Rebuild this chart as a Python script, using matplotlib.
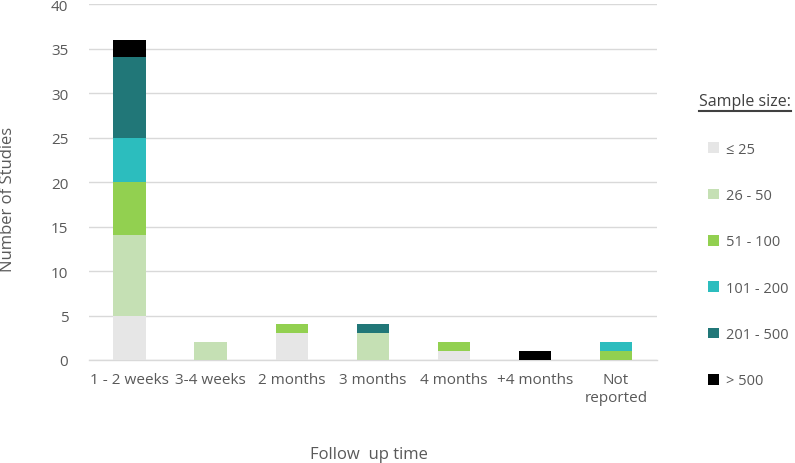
import matplotlib.pyplot as plt
from matplotlib.lines import Line2D
import numpy as np

plt.rcParams['font.family'] = ['Open Sans', 'DejaVu Sans']

categories = ["1 - 2 weeks", "3-4 weeks", "2 months", "3 months",
              "4 months", "+4 months", "Not\nreported"]
size_labels = ["\u2264 25", "26 - 50", "51 - 100", "101 - 200", "201 - 500", "> 500"]
size_colors = ["#E6E6E6", "#C5E0B4", "#92D050", "#2CBDBE", "#217778", "#000000"]

le_25 = [5, 0, 3, 0, 1, 0, 0]
s26_50 = [9, 2, 0, 3, 0, 0, 0]
s51_100 = [6, 0, 1, 0, 1, 0, 1]
s101_200 = [5, 0, 0, 0, 0, 0, 1]
s201_500 = [9, 0, 0, 1, 0, 0, 0]
gt_500 = [2, 0, 0, 0, 0, 1, 0]
series = [le_25, s26_50, s51_100, s101_200, s201_500, gt_500]

grey = "#595959"

fig = plt.figure(figsize=(7.95, 4.64), dpi=100)
ax = fig.add_axes([0.112, 0.222, 0.714, 0.767])

x = np.arange(len(categories))
bottom = np.zeros(len(categories))
handles = []
for vals, lab, col in zip(series, size_labels, size_colors):
    b = ax.bar(x, vals, width=0.4, bottom=bottom, color=col, label=lab, zorder=3)
    handles.append(b)
    bottom += np.array(vals)

ax.set_xlim(-0.5, 6.5)
ax.set_ylim(0, 40)
ax.set_yticks(range(0, 41, 5))
ax.yaxis.grid(True, color="#D9D9D9", linewidth=1, zorder=0)
for s in ["top", "right", "left"]:
    ax.spines[s].set_visible(False)
ax.spines["bottom"].set_color("#D9D9D9")
ax.spines["bottom"].set_linewidth(1)
ax.tick_params(axis="both", length=0, colors=grey, labelsize=11)
ax.tick_params(axis="x", pad=9)
ax.tick_params(axis="y", pad=15)
ax.set_xticks(x)
ax.set_xticklabels(categories, linespacing=1.25)

ax.set_ylabel("Number of Studies", color=grey, fontsize=12)
ax.yaxis.set_label_coords(-0.128, 0.455)
fig.text(0.464, 0.019, "Follow  up time", color=grey, fontsize=12, ha="center", va="center")

leg = fig.legend(handles=handles, labels=size_labels, loc="upper left",
                 bbox_to_anchor=(0.883, 0.705), frameon=False,
                 fontsize=10.5, labelspacing=2.15, handlelength=0.75,
                 handleheight=0.75, handletextpad=0.5, borderaxespad=0)
for t in leg.get_texts():
    t.set_color(grey)

fig.text(0.879, 0.78, "Sample size:", color="#404040", fontsize=11.5, ha="left", va="center")
fig.add_artist(Line2D([0.879, 0.995], [0.759, 0.759], color="#404040", linewidth=1.5))

fig.savefig("out.png", dpi=100)
